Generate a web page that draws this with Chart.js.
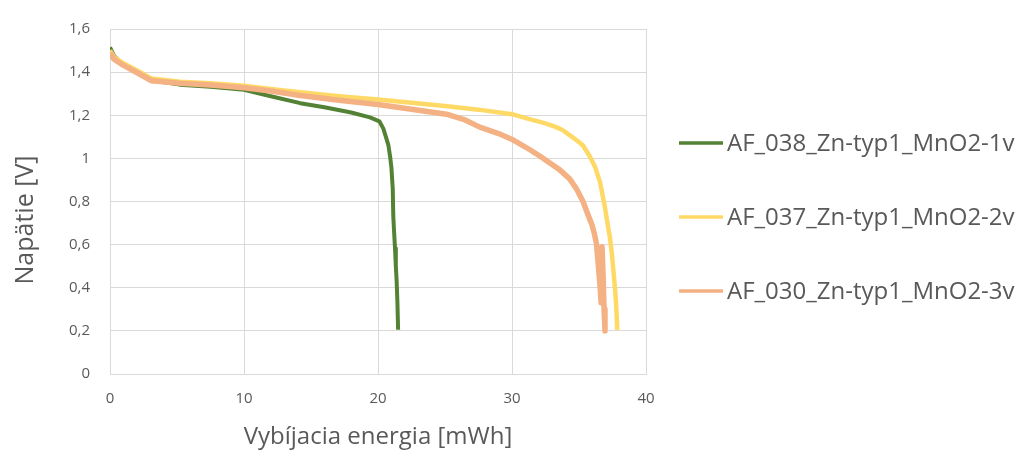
<!DOCTYPE html>
<html lang="sk">
<head>
    <meta charset="UTF-8">
    <title>Vybíjacia energia</title>
    <script src="https://cdn.jsdelivr.net/npm/chart.js"></script>
    <style>
        body { margin: 0; background: #fff; }
        #wrap { width: 1019px; height: 458px; }
    </style>
</head>
<body>

    <div id="wrap">
        <canvas id="myChart"></canvas>
    </div>

    <script>
        // Values (energy in mWh, voltage in V)
        const labels = ['AF_038_Zn-typ1_MnO2-1v', 'AF_037_Zn-typ1_MnO2-2v', 'AF_030_Zn-typ1_MnO2-3v'];

        const energy038 = [0, 0.3, 0.9, 2.1, 3.1, 5.2, 7.5, 10, 12, 14.2, 16, 18, 19.4, 20.1, 20.4, 20.77, 20.9, 21.0, 21.1, 21.14, 21.2, 21.27, 21.33, 21.39, 21.45, 21.5];
        const voltage038 = [1.515, 1.475, 1.44, 1.395, 1.362, 1.342, 1.332, 1.318, 1.288, 1.256, 1.237, 1.213, 1.19, 1.172, 1.138, 1.063, 1.01, 0.958, 0.86, 0.733, 0.66, 0.583, 0.5, 0.433, 0.33, 0.205];

        const energy037 = [0, 0.3, 0.9, 2.1, 3.1, 5.2, 7.5, 10, 12, 14.2, 17.1, 20, 22.5, 25, 27.5, 30, 31.3, 32.5, 33.3, 33.8, 34.3, 34.8, 35.3, 35.8, 36.2, 36.57, 36.9, 37.1, 37.3, 37.45, 37.56, 37.68, 37.76, 37.86];
        const voltage037 = [1.5, 1.47, 1.445, 1.405, 1.37, 1.355, 1.348, 1.337, 1.322, 1.307, 1.288, 1.273, 1.258, 1.243, 1.226, 1.205, 1.182, 1.162, 1.145, 1.13, 1.108, 1.085, 1.06, 1.01, 0.96, 0.89, 0.785, 0.71, 0.635, 0.56, 0.485, 0.4, 0.335, 0.205];

        const energy030 = [0, 0.3, 0.9, 2.1, 3.1, 5.2, 7.5, 10, 12, 14.2, 17.1, 20, 22.5, 25.1, 26.5, 27.6, 29, 30.1, 31.34, 32.1, 32.8, 33.5, 34.3, 34.8, 35.3, 35.6, 35.95, 36.15, 36.3, 36.45, 36.58, 36.65, 36.72, 36.8, 36.87, 36.94];
        const voltage030 = [1.49, 1.46, 1.435, 1.395, 1.36, 1.348, 1.34, 1.328, 1.312, 1.292, 1.27, 1.25, 1.228, 1.205, 1.178, 1.145, 1.115, 1.085, 1.04, 1.01, 0.98, 0.95, 0.905, 0.86, 0.8, 0.75, 0.695, 0.65, 0.605, 0.5, 0.4, 0.33, 0.59, 0.45, 0.3, 0.2];

        const xTicks = [0, 10, 20, 30, 40];
        const yTicks = [0, 0.2, 0.4, 0.6, 0.8, 1, 1.2, 1.4, 1.6];

        const toPoints = (xs, ys) => xs.map((x, i) => ({ x: x, y: ys[i] }));
        const comma = v => String(Math.round(v * 10) / 10).replace('.', ',');

        const textColor = '#595959';
        const gridColor = '#d9d9d9';
        const fontFamily = '"Open Sans", sans-serif';

        // legend on the right and the y title, placed like in the Excel original
        const excelLayout = {
            id: 'excelLayout',
            afterDraw(chart) {
                const ctx = chart.ctx;
                const rows = [143, 217, 291];
                ctx.save();
                ctx.font = '24px ' + fontFamily;
                ctx.textBaseline = 'middle';
                ctx.fillStyle = textColor;
                chart.data.datasets.forEach((ds, i) => {
                    const y = rows[i];
                    ctx.strokeStyle = ds.borderColor;
                    ctx.lineWidth = 3.5;
                    ctx.beginPath();
                    ctx.moveTo(679, y);
                    ctx.lineTo(723, y);
                    ctx.stroke();
                    ctx.fillText(ds.label, 727, y + 1);
                });

                ctx.translate(26, 220);
                ctx.rotate(-Math.PI / 2);
                ctx.textAlign = 'center';
                ctx.font = '25px ' + fontFamily;
                ctx.fillText('Napätie [V]', 0, 0);
                ctx.restore();
            }
        };

        const ctx = document.getElementById('myChart').getContext('2d');
        new Chart(ctx, {
            type: 'scatter',
            data: {
                datasets: [{
                    label: labels[0],
                    data: toPoints(energy038, voltage038),
                    borderColor: '#548235',
                    borderWidth: 4,
                    order: 3
                }, {
                    label: labels[1],
                    data: toPoints(energy037, voltage037),
                    borderColor: '#ffd966',
                    borderWidth: 4.5,
                    order: 2
                }, {
                    label: labels[2],
                    data: toPoints(energy030, voltage030),
                    borderColor: '#f4b183',
                    borderWidth: 5.5,
                    order: 1
                }]
            },
            options: {
                responsive: true,
                maintainAspectRatio: false,
                animation: false,
                showLine: true,
                elements: {
                    point: { radius: 0, hoverRadius: 0 },
                    line: { tension: 0, borderJoinStyle: 'round', borderCapStyle: 'butt' }
                },
                layout: { padding: { top: 19, right: 373, left: 0, bottom: 0 } },
                plugins: {
                    legend: { display: false },
                    tooltip: { enabled: false }
                },
                scales: {
                    x: {
                        type: 'linear',
                        min: 0,
                        max: 40,
                        afterBuildTicks: s => { s.ticks = xTicks.map(v => ({ value: v })); },
                        afterFit: s => { s.height = 84; },
                        grid: { color: gridColor, drawTicks: false },
                        border: { color: gridColor },
                        ticks: { color: textColor, font: { family: fontFamily, size: 15 }, padding: 16, maxRotation: 0 },
                        title: {
                            display: true,
                            text: 'Vybíjacia energia [mWh]',
                            color: textColor,
                            font: { family: fontFamily, size: 24 },
                            padding: { top: 0, bottom: 6 }
                        }
                    },
                    y: {
                        min: 0,
                        max: 1.6,
                        afterBuildTicks: s => { s.ticks = yTicks.map(v => ({ value: v })); },
                        afterFit: s => { s.width = 110; },
                        grid: { color: gridColor, drawTicks: false },
                        border: { color: gridColor },
                        ticks: { color: textColor, font: { family: fontFamily, size: 15 }, padding: 20, callback: v => comma(v) }
                    }
                }
            },
            plugins: [excelLayout]
        });
    </script>

</body>
</html>
